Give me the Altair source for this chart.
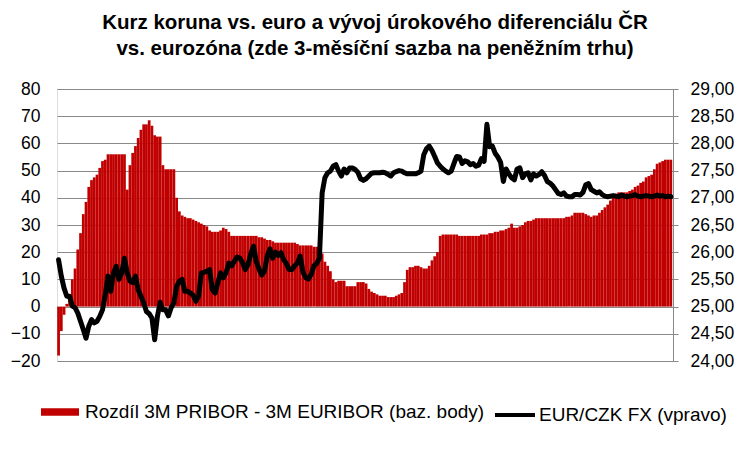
import altair as alt
import pandas as pd

# weekly observations, first week starts 2011-12-30
week_start = pd.date_range("2011-12-30", periods=224, freq="7D")

spread = [
    -18, -9, -3, 1, 4, 10, 14, 21, 27, 34,
    38.5, 44, 46.5, 47.5, 48.5, 51, 53.5, 54, 56, 56,
    56, 56, 56, 56, 56, 43, 52, 56.5, 59, 62,
    65, 67, 67, 68.5, 66.5, 63, 62.5, 62.5, 52, 50.5,
    50.5, 50.5, 50.5, 40, 35, 33.5, 33, 32.5, 32.5, 32,
    31.5, 31, 30.5, 30, 29.5, 28, 27.5,
    27.5, 27.5, 28, 29, 28.5, 27.5, 26, 26, 26, 26,
    26, 26, 26, 26, 26, 26, 25.5, 25.5, 25, 24.5,
    24.5, 24, 23.5, 23.5, 23.5, 23.5, 23.5, 23.5, 23.5, 23.5,
    23, 22.5, 22.5, 22.5, 22.5, 22.5, 22, 22, 22, 19.5,
    16.5, 15, 13, 10, 9, 9.5, 9.5, 9.5, 7.5, 7.5,
    7.5, 7.5, 9, 9, 9, 8.5, 6.5,
    5.5, 5, 4.5, 4, 4, 4, 3.5, 3.5, 3.5, 4, 4.5,
    5, 9, 13.5, 14.5, 14.5, 15, 15, 14.5, 14, 14, 15, 17, 18.5, 20, 26,
    26.5, 26.5, 26.5, 26.5, 26.5, 26.5, 26, 26, 26, 26,
    26, 26, 26, 26, 26.5, 26.5, 26.5, 27, 27, 27.5,
    27.5, 28, 28, 28.5, 29, 30.5, 29, 29, 29.5, 30,
    31, 31.5, 31.5, 32, 32.5, 32.5, 32.5, 32.5, 32.5, 32.5,
    32.5, 32.5, 32.5, 32.5, 32.5, 33, 33, 33.5, 34.5, 34.5,
    34.5, 34.5, 34, 33.5, 33, 33.5, 33.5, 34.5, 35.5, 36.5,
    37.5, 39, 40.5, 41.5, 42, 42, 42, 42, 42.5, 43,
    44, 44.5, 45.5, 46, 47.5, 48, 48.5, 50.5, 52.5, 53,
    53.5, 54, 54, 54,
]

eurczk = [
    25.86, 25.56, 25.34, 25.19, 25.19, 25.01, 24.98, 24.88, 24.73, 24.58,
    24.42, 24.64, 24.76, 24.70, 24.73, 24.82, 24.94, 25.22, 25.56, 25.28,
    25.62, 25.74, 25.50, 25.62, 25.89, 25.62, 25.47, 25.44, 25.56, 25.31,
    25.19, 25.07, 24.91, 24.87, 24.79, 24.39, 24.82, 25.08, 24.94, 24.94,
    24.83, 24.98, 25.07, 25.37, 25.47, 25.50, 25.28, 25.28, 25.25, 25.21,
    25.10, 25.19, 25.62, 25.63, 25.65, 25.68, 25.31,
    25.25, 25.44, 25.62, 25.53, 25.62, 25.80, 25.75, 25.83, 25.91, 25.89,
    25.81, 25.68, 25.77, 25.97, 26.11, 25.83, 25.69, 25.58, 25.65, 25.93,
    26.06, 25.89, 26.00, 25.94, 25.99, 25.86, 25.79, 25.68, 25.68, 25.75,
    25.80, 25.93, 25.64, 25.53, 25.51, 25.59, 25.75, 25.79, 25.89, 27.09,
    27.37, 27.46, 27.49, 27.58, 27.61, 27.49, 27.40, 27.53, 27.46, 27.55,
    27.55, 27.52, 27.47, 27.35, 27.32, 27.35, 27.40,
    27.45, 27.46, 27.46, 27.46, 27.47, 27.46, 27.43, 27.40, 27.46, 27.48,
    27.50, 27.49, 27.46, 27.44, 27.44, 27.44, 27.44, 27.46, 27.49, 27.79,
    27.90, 27.95, 27.87, 27.76, 27.64, 27.58, 27.53, 27.49, 27.46, 27.49,
    27.63, 27.76, 27.75, 27.63, 27.68, 27.66, 27.61, 27.63, 27.58, 27.60,
    27.72, 27.67, 28.35, 27.94, 27.95, 27.82, 27.75, 27.65, 27.30, 27.53,
    27.44, 27.37, 27.33, 27.53, 27.55, 27.37,
    27.44, 27.46, 27.33, 27.44, 27.40, 27.43, 27.48, 27.41, 27.30, 27.27,
    27.22, 27.15, 27.08, 27.06, 27.09, 27.03, 27.02, 27.02, 27.06, 27.06,
    27.05, 27.10, 27.24, 27.26, 27.15, 27.12, 27.09, 27.11, 27.06, 27.03,
    27.02, 27.03, 27.04, 27.03, 27.02, 27.05, 27.03, 27.02, 27.03, 27.04,
    27.06, 27.03, 27.02, 27.03, 27.04, 27.03, 27.02, 27.03, 27.05, 27.03,
    27.04, 27.02, 27.03, 27.02,
]

title_lines = [
    "Kurz koruna vs. euro a vývoj úrokového diferenciálu ČR",
    "vs. eurozóna (zde 3-měsíční sazba na peněžním trhu)",
]
spread_label = "Rozdíl 3M PRIBOR - 3M EURIBOR (baz. body)"
fx_label = "EUR/CZK FX (vpravo)"
left_ticks = [-20, -10, 0, 10, 20, 30, 40, 50, 60, 70, 80]
right_ticks = [24.0, 24.5, 25.0, 25.5, 26.0, 26.5, 27.0, 27.5, 28.0, 28.5, 29.0]
x_tick_months = [(2012, 1), (2012, 7), (2013, 1), (2013, 7), (2014, 1),
                 (2014, 7), (2015, 1), (2015, 7), (2016, 1)]

fmt = "%Y-%m-%dT%H:%M:%S"
df = pd.DataFrame({
    "start": week_start.strftime(fmt),
    "end": (week_start + pd.Timedelta(days=7)).strftime(fmt),
    "mid": (week_start + pd.Timedelta(hours=84)).strftime(fmt),
    "spread": spread,
    "fx": eurczk,
    "s1": spread_label,
    "s2": fx_label,
})

FONT = "Liberation Sans"
GRID = "#898989"
RED = "#C00000"

xscale = alt.Scale(domain=[alt.DateTime(year=2011, month=12, date=29, hours=12),
                           alt.DateTime(year=2016, month=4, date=17)])

bars = alt.Chart(df).mark_rect(color=RED).encode(
    x=alt.X("start:T", scale=xscale,
            axis=alt.Axis(values=[alt.DateTime(year=y, month=m, date=1) for y, m in x_tick_months],
                          format="%-m-%y", title=None, grid=False, domain=False,
                          ticks=False, labelPadding=13, labelFontSize=18,
                          labelColor="black", labelFont=FONT)),
    x2="end:T",
    y=alt.Y("spread:Q", scale=alt.Scale(domain=[-20, 80], nice=False, zero=False),
            axis=alt.Axis(orient="left", values=left_ticks, title=None, domain=False,
                          ticks=False, grid=True, gridColor=GRID, gridWidth=1,
                          labelPadding=17, labelFontSize=17.5, labelColor="black",
                          labelFont=FONT)),
    y2=alt.datum(0),
    color=alt.Color("s1:N", scale=alt.Scale(range=[RED]),
                    legend=alt.Legend(title=None, orient="none", legendX=-16, legendY=304,
                                      symbolType="M-1,-0.2H1V0.2H-1Z", symbolSize=1444,
                                      symbolStrokeWidth=0, labelFontSize=19, labelOffset=6,
                                      labelColor="black", labelFont=FONT, padding=0,
                                      labelLimit=600)),
)

line = alt.Chart(df).mark_line(strokeWidth=5, strokeJoin="round", strokeCap="round").encode(
    x=alt.X("mid:T", scale=xscale, axis=None),
    y=alt.Y("fx:Q", scale=alt.Scale(domain=[24, 29], nice=False, zero=False),
            axis=alt.Axis(orient="right", values=right_ticks, title=None,
                          labelExpr="replace(format(datum.value, '.2f'), '.', ',')",
                          domain=True, domainColor=GRID, ticks=True, tickColor=GRID,
                          tickSize=5, grid=False, labelPadding=12, labelFontSize=17.5,
                          labelColor="black", labelFont=FONT)),
    color=alt.Color("s2:N", scale=alt.Scale(range=["black"]),
                    legend=alt.Legend(title=None, orient="none", legendX=436, legendY=304,
                                      symbolType="stroke", symbolSize=1600,
                                      symbolStrokeWidth=4, labelFontSize=19, labelOffset=2,
                                      labelColor="black", labelFont=FONT, padding=0,
                                      labelLimit=400)),
)

chart = alt.layer(bars, line).resolve_scale(
    y="independent", color="independent"
).resolve_legend(color="independent").properties(
    width=616,
    height=272,
    title=alt.TitleParams(text=title_lines, fontSize=20.5, fontWeight="bold", font=FONT,
                          color="black", anchor="middle", dx=10, offset=21, lineHeight=26),
    autosize=alt.AutoSizeParams(type="none"),
    padding={"left": 49, "top": 81, "right": 69, "bottom": 81},
).configure_view(stroke=None).configure(font=FONT)

chart.save("out.html", embed_options={"renderer": "svg", "actions": False})
